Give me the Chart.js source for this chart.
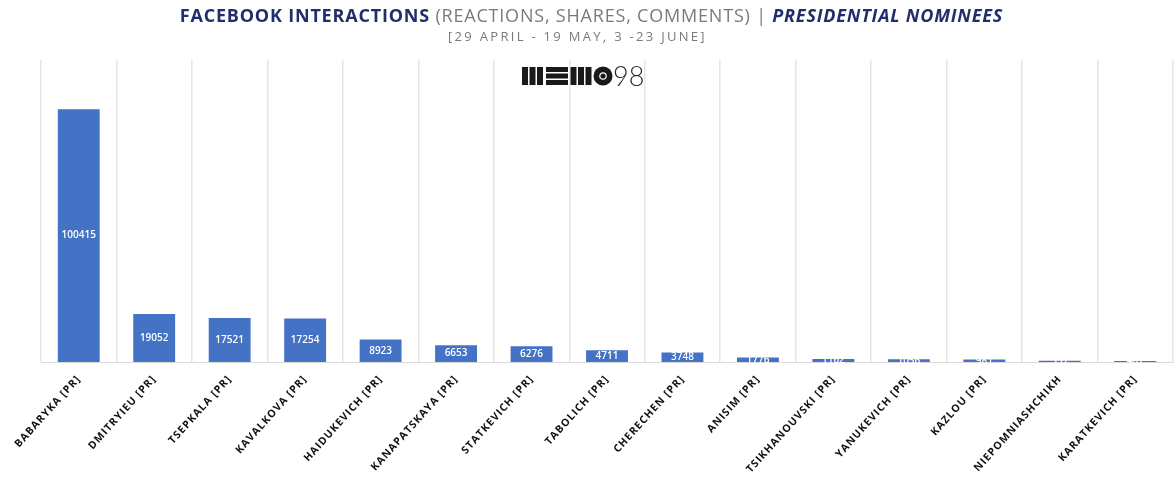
<!DOCTYPE html>
<html>
<head>
<meta charset="utf-8">
<script src="https://cdn.jsdelivr.net/npm/chart.js@4"></script>
<style>
  html, body { margin: 0; padding: 0; background: #fff; }
  #wrap { position: relative; width: 1175px; height: 477px; overflow: hidden; }
  #chartBox { position: absolute; left: 0; top: 0; width: 1175px; height: 477px; }
  #title { position: absolute; left: 4px; top: 4px; width: 1175px; text-align: center; font-family: "Open Sans", sans-serif; font-size: 18px; letter-spacing: 0.8px; white-space: nowrap; line-height: 22px; }
  #title .b { color: #1F2F6B; font-weight: 700; }
  #title .g { color: #7a7a7a; font-weight: 400; }
  #title .bi { color: #1F2F6B; font-weight: 700; font-style: italic; }
  #sub { position: absolute; left: -10px; top: 28px; width: 1175px; text-align: center; font-family: "Open Sans", sans-serif; font-size: 13px; letter-spacing: 2.3px; color: #7a7a7a; line-height: 16px; }
  #logo { position: absolute; left: 522px; top: 63px; height: 26px; display: flex; align-items: center; }
  #logo span { font-family: "Lato", "Open Sans", sans-serif; font-weight: 300; font-size: 27px; color: #2b2b2b; margin-left: 0px; line-height: 26px; }
</style>
</head>
<body>
<div id="wrap">
  <div id="chartBox"><canvas id="c"></canvas></div>
  <div id="title"><span class="b">FACEBOOK INTERACTIONS</span> <span class="g">(REACTIONS, SHARES, COMMENTS) |</span> <span class="bi">PRESIDENTIAL NOMINEES</span></div>
  <div id="sub">[29 APRIL - 19 MAY, 3 -23 JUNE]</div>
  <div id="logo">
    <svg width="91" height="20" viewBox="0 0 91 20">
      <g fill="#1a1a1a">
        <rect x="0" y="1" width="6" height="18"/><rect x="7.5" y="1" width="6" height="18"/><rect x="15" y="1" width="6" height="18"/>
        <rect x="24" y="1" width="22" height="5"/><rect x="24" y="7.5" width="22" height="5"/><rect x="24" y="14" width="22" height="5"/>
        <rect x="48.5" y="1" width="6" height="18"/><rect x="56" y="1" width="6" height="18"/><rect x="63.5" y="1" width="6" height="18"/>
        <circle cx="81" cy="10" r="9.5"/>
      </g>
      <circle cx="81" cy="10" r="3.2" fill="none" stroke="#fff" stroke-width="1.2"/>
    </svg>
    <span>98</span>
  </div>
</div>
<script>
const categories = ['BABARYKA [PR]', 'DMITRYIEU [PR]', 'TSEPKALA [PR]', 'KAVALKOVA [PR]', 'HAIDUKEVICH [PR]', 'KANAPATSKAYA [PR]', 'STATKEVICH [PR]', 'TABOLICH [PR]', 'CHERECHEN [PR]', 'ANISIM [PR]', 'TSIKHANOUVSKI [PR]', 'YANUKEVICH [PR]', 'KAZLOU [PR]', 'NIEPOMNIASHCHIKH', 'KARATKEVICH [PR]'];
const interactions = [100415, 19052, 17521, 17254, 8923, 6653, 6276, 4711, 3748, 1776, 1162, 1056, 981, 537, 407];
const yMax = 120000;

const spacingPlugin = {
  id: 'spacing',
  beforeLayout(chart) { chart.ctx.letterSpacing = '1px'; },
  beforeDraw(chart) { chart.ctx.letterSpacing = '1px'; }
};

const valueLabels = {
  id: 'valueLabels',
  afterDatasetsDraw(chart) {
    const ctx = chart.ctx;
    ctx.save();
    ctx.letterSpacing = '0px';
    ctx.font = '600 10px "Open Sans", sans-serif';
    ctx.fillStyle = '#ffffff';
    ctx.textAlign = 'center';
    ctx.textBaseline = 'middle';
    const meta = chart.getDatasetMeta(0);
    meta.data.forEach((bar, i) => {
      const v = chart.data.datasets[0].data[i];
      ctx.fillText(String(v), bar.x, (bar.y + bar.base) / 2);
    });
    ctx.restore();
  }
};

new Chart(document.getElementById('c'), {
  type: 'bar',
  data: {
    labels: categories,
    datasets: [{
      data: interactions,
      backgroundColor: '#4472C4',
      borderWidth: 0,
      barPercentage: 0.555,
      categoryPercentage: 1.0
    }]
  },
  options: {
    responsive: true,
    maintainAspectRatio: false,
    animation: false,
    devicePixelRatio: 1,
    layout: { padding: { left: 41, right: 2, top: 60, bottom: 0 } },
    plugins: { legend: { display: false }, tooltip: { enabled: false }, title: { display: false } },
    scales: {
      x: {
        offset: true,
        grid: { display: true, offset: true, color: '#e6e6e6', lineWidth: 1.5, drawTicks: false },
        border: { display: true, color: '#d9d9d9', width: 1 },
        ticks: {
          minRotation: 48, maxRotation: 48, autoSkip: false, padding: 11,
          color: '#111111',
          font: { family: '"Open Sans", sans-serif', size: 10.5, weight: '700' }
        },
        afterFit(scale) { scale.height = 115; }
      },
      y: { display: false, min: 0, max: yMax }
    }
  },
  plugins: [spacingPlugin, valueLabels]
});
</script>
</body>
</html>
